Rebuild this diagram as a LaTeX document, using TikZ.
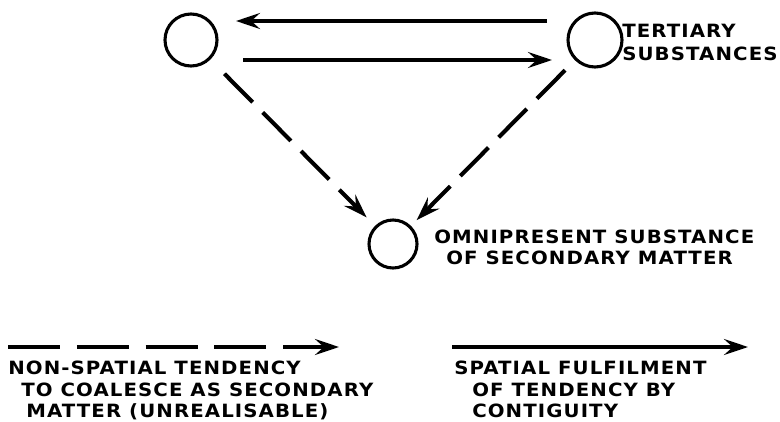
\documentclass[tikz,border=0pt]{standalone}
\usepackage{fontspec}
\setmainfont{DejaVu Sans}[LetterSpace=6, FakeStretch=1.08]
\usepackage{tikz}
\usetikzlibrary{positioning,arrows.meta}

\begin{document}
\begin{tikzpicture}[x=0.25mm, y=-0.25mm,
  subst/.style={draw, circle, line width=2.2pt, minimum size=13mm, inner sep=0pt},
  lab/.style={font=\bfseries\fontsize{13}{15}\selectfont, anchor=base west, inner sep=0pt},
  solidarr/.style={line width=2.5pt, -{Stealth[length=6mm, width=4mm, inset=2.2mm]}},
  dasharr/.style={solidarr, line width=2.9pt, dash pattern=on 10mm off 3.6mm},
]
\useasboundingbox (0,0) rectangle (780,421);

\node[subst] (left) at (191, 40) {};
\node[subst, minimum size=13.5mm] (tert) at (595, 40) {};
\node[subst, minimum size=12mm] (omni) at (393, 244) {};

\coordinate (topR) at (547, 21);
\coordinate (topL) at (236, 21);
\coordinate (botL) at (243, 60);
\coordinate (botR) at (552, 60);
\draw[solidarr] (topR) -- (topL);
\draw[solidarr] (botL) -- (botR);

\draw[dasharr, shorten <=5mm, shorten >=3mm] (left) -- (omni);
\draw[dasharr, shorten <=3.5mm, shorten >=2mm] (tert) -- (omni);

\node[lab] (tert1) at (622, 37) {TERTIARY};
\node[lab] (tert2) at (622, 60) {SUBSTANCES};
\node[lab] (omni1) at (434, 243) {OMNIPRESENT SUBSTANCE};
\node[lab] (omni2) at (446, 264) {OF SECONDARY MATTER};

% legend
\coordinate (dashA) at (8, 347);
\coordinate (dashB) at (339, 347);
\coordinate (solA) at (452, 347);
\coordinate (solB) at (748, 347);
\draw[dasharr, line width=2.5pt, dash pattern=on 13mm off 4.2mm] (dashA) -- (dashB);
\draw[solidarr] (solA) -- (solB);

\node[lab] (ns1) at (8, 374) {NON-SPATIAL TENDENCY};
\node[lab] (ns2) at (21, 396) {TO COALESCE AS SECONDARY};
\node[lab] (ns3) at (26, 417) {MATTER (UNREALISABLE)};
\node[lab] (sp1) at (454, 374) {SPATIAL FULFILMENT};
\node[lab] (sp2) at (472, 396) {OF TENDENCY BY};
\node[lab] (sp3) at (472, 417) {CONTIGUITY};
\end{tikzpicture}
\end{document}
